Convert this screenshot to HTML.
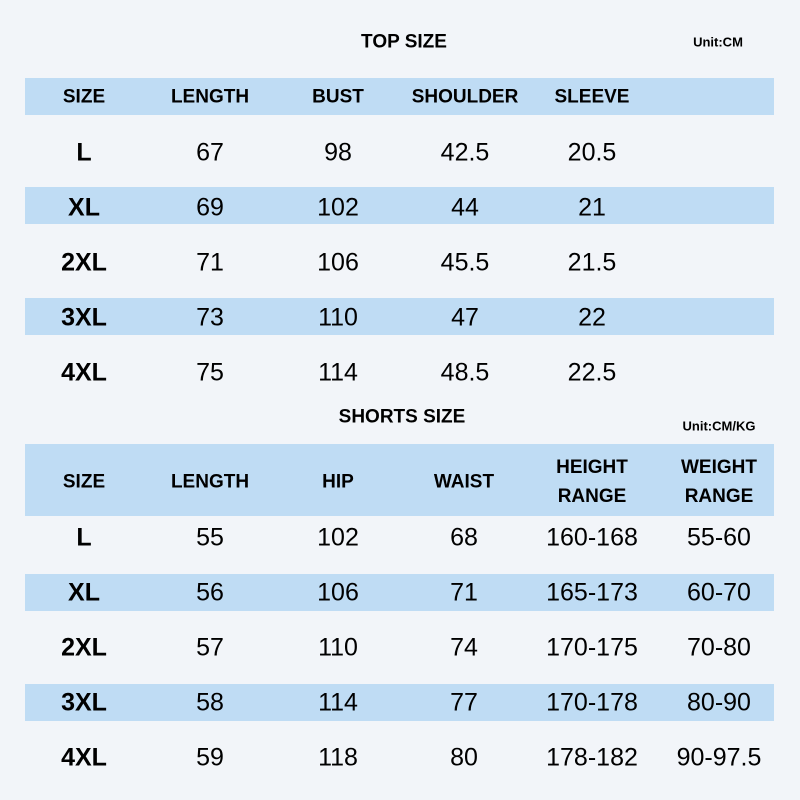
<!DOCTYPE html><html><head><style>
body{margin:0;width:800px;height:800px;background:#f2f5f9;position:relative;overflow:hidden;font-family:"Liberation Sans","DejaVu Sans",sans-serif;color:#000}
.b{position:absolute;left:25px;width:749px;background:#bfdcf4}
.t{position:absolute;transform:translate(-50%,-50%);white-space:nowrap;text-align:center}
.h{font-weight:bold;font-size:19px;line-height:29px}
.d{font-size:25px}
.s{font-weight:bold;font-size:25px}
.u{font-weight:bold;font-size:13px}
</style></head><body>
<div class="b" style="top:78px;height:37px"></div>
<div class="b" style="top:187px;height:37px"></div>
<div class="b" style="top:298px;height:37px"></div>
<div class="b" style="top:444px;height:72px"></div>
<div class="b" style="top:574px;height:37px"></div>
<div class="b" style="top:684px;height:37px"></div>
<div class="t h" style="left:404px;top:42px">TOP SIZE</div>
<div class="t u" style="left:718px;top:42px">Unit:CM</div>
<div class="t h" style="left:402px;top:417px">SHORTS SIZE</div>
<div class="t u" style="left:719px;top:426px">Unit:CM/KG</div>

<div class="t h" style="left:84px;top:97px">SIZE</div>
<div class="t h" style="left:210px;top:97px">LENGTH</div>
<div class="t h" style="left:338px;top:97px">BUST</div>
<div class="t h" style="left:465px;top:97px">SHOULDER</div>
<div class="t h" style="left:592px;top:97px">SLEEVE</div>

<div class="t s" style="left:84px;top:153px">L</div><div class="t d" style="left:210px;top:153px">67</div><div class="t d" style="left:338px;top:153px">98</div><div class="t d" style="left:465px;top:153px">42.5</div><div class="t d" style="left:592px;top:153px">20.5</div>
<div class="t s" style="left:84px;top:208px">XL</div><div class="t d" style="left:210px;top:208px">69</div><div class="t d" style="left:338px;top:208px">102</div><div class="t d" style="left:465px;top:208px">44</div><div class="t d" style="left:592px;top:208px">21</div>
<div class="t s" style="left:84px;top:263px">2XL</div><div class="t d" style="left:210px;top:263px">71</div><div class="t d" style="left:338px;top:263px">106</div><div class="t d" style="left:465px;top:263px">45.5</div><div class="t d" style="left:592px;top:263px">21.5</div>
<div class="t s" style="left:84px;top:318px">3XL</div><div class="t d" style="left:210px;top:318px">73</div><div class="t d" style="left:338px;top:318px">110</div><div class="t d" style="left:465px;top:318px">47</div><div class="t d" style="left:592px;top:318px">22</div>
<div class="t s" style="left:84px;top:373px">4XL</div><div class="t d" style="left:210px;top:373px">75</div><div class="t d" style="left:338px;top:373px">114</div><div class="t d" style="left:465px;top:373px">48.5</div><div class="t d" style="left:592px;top:373px">22.5</div>

<div class="t h" style="left:84px;top:482px">SIZE</div>
<div class="t h" style="left:210px;top:482px">LENGTH</div>
<div class="t h" style="left:338px;top:482px">HIP</div>
<div class="t h" style="left:464px;top:482px">WAIST</div>
<div class="t h" style="left:592px;top:482px">HEIGHT<br>RANGE</div>
<div class="t h" style="left:719px;top:482px">WEIGHT<br>RANGE</div>

<div class="t s" style="left:84px;top:538px">L</div><div class="t d" style="left:210px;top:538px">55</div><div class="t d" style="left:338px;top:538px">102</div><div class="t d" style="left:464px;top:538px">68</div><div class="t d" style="left:592px;top:538px">160-168</div><div class="t d" style="left:719px;top:538px">55-60</div>
<div class="t s" style="left:84px;top:593px">XL</div><div class="t d" style="left:210px;top:593px">56</div><div class="t d" style="left:338px;top:593px">106</div><div class="t d" style="left:464px;top:593px">71</div><div class="t d" style="left:592px;top:593px">165-173</div><div class="t d" style="left:719px;top:593px">60-70</div>
<div class="t s" style="left:84px;top:648px">2XL</div><div class="t d" style="left:210px;top:648px">57</div><div class="t d" style="left:338px;top:648px">110</div><div class="t d" style="left:464px;top:648px">74</div><div class="t d" style="left:592px;top:648px">170-175</div><div class="t d" style="left:719px;top:648px">70-80</div>
<div class="t s" style="left:84px;top:703px">3XL</div><div class="t d" style="left:210px;top:703px">58</div><div class="t d" style="left:338px;top:703px">114</div><div class="t d" style="left:464px;top:703px">77</div><div class="t d" style="left:592px;top:703px">170-178</div><div class="t d" style="left:719px;top:703px">80-90</div>
<div class="t s" style="left:84px;top:758px">4XL</div><div class="t d" style="left:210px;top:758px">59</div><div class="t d" style="left:338px;top:758px">118</div><div class="t d" style="left:464px;top:758px">80</div><div class="t d" style="left:592px;top:758px">178-182</div><div class="t d" style="left:719px;top:758px">90-97.5</div>
</body></html>
